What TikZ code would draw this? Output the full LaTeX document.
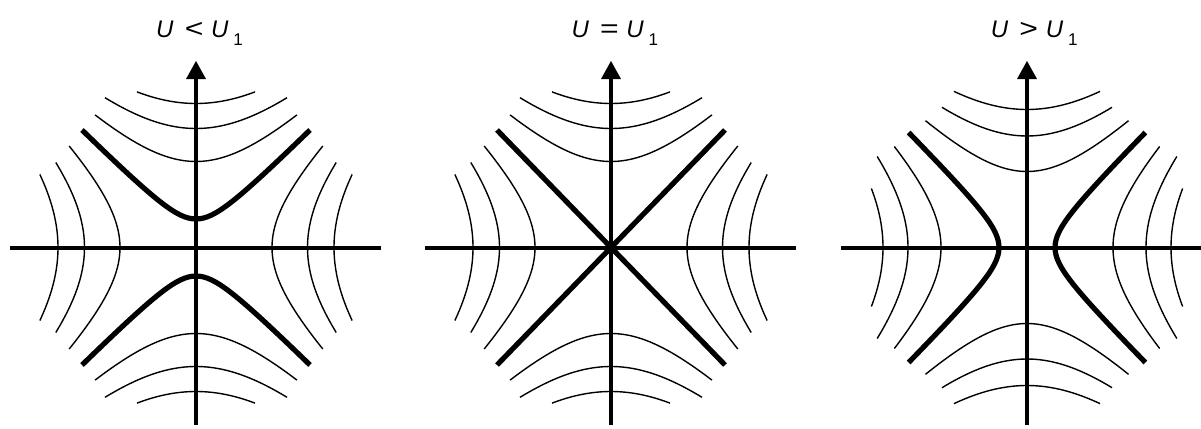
\documentclass[tikz,border=0pt]{standalone}
\usepackage{fontspec}
\setmainfont{Liberation Sans}
\begin{document}
\begin{tikzpicture}[x=1pt,y=-1pt,
  fam/.style={line width=1.4pt},
  sepx/.style={line width=5.2pt},
  ax/.style={line width=4pt},
  lbl/.style={anchor=base west,inner sep=0pt}]
\useasboundingbox (0,0) rectangle (1201,428);
\newcommand{\sub}[1]{\raisebox{-8.7pt}{\fontsize{17pt}{17pt}\selectfont #1}}
\newcommand{\lab}[1]{\fontsize{24pt}{28pt}\selectfont\textit{U}\hspace{11.1pt}\scalebox{1.33}[1.08]{#1}\hspace{7.7pt}\textit{U}\hspace{4.8pt}\sub{1}}
% ---------- panel 1 : U < U1 ----------
\begin{scope}[shift={(196,247.5)}]
  \foreach \a/\X in {14.4/5.9,11.9/9.1,8.6/10.1}{
    \draw[fam] plot[domain=-\X:\X,samples=41,smooth] ({10*\x},{10*sqrt(\a*\a+\x*\x)});
    \draw[fam] plot[domain=-\X:\X,samples=41,smooth] ({10*\x},{-10*sqrt(\a*\a+\x*\x)});
  }
  \foreach \a/\Y in {7.6/10.15,11.15/8.5,13.8/7.3}{
    \draw[fam] plot[domain=-\Y:\Y,samples=41,smooth] ({10*sqrt(\a*\a+\x*\x)},{10*\x});
    \draw[fam] plot[domain=-\Y:\Y,samples=41,smooth] ({-10*sqrt(\a*\a+\x*\x)},{10*\x});
  }
  \draw[sepx] plot[domain=-11.4:11.4,samples=61,smooth] ({10*\x},{10*sqrt(2.85*2.85+\x*\x)});
  \draw[sepx] plot[domain=-11.4:11.4,samples=61,smooth] ({10*\x},{-10*sqrt(2.85*2.85+\x*\x)});
  \draw[ax] (-186,0) -- (185,0);
  \draw[ax] (0,177.5) -- (0,-170);
  \fill (0,-186.5) -- (-10,-168.5) -- (10,-168.5) -- cycle;
\end{scope}
\node[lbl] (l1) at (156,37.3) {\lab{<}};
% ---------- panel 2 : U = U1 ----------
\begin{scope}[shift={(611,247.5)}]
  \foreach \a/\X in {14.4/5.9,11.9/9.1,8.6/10.1}{
    \draw[fam] plot[domain=-\X:\X,samples=41,smooth] ({10*\x},{10*sqrt(\a*\a+\x*\x)});
    \draw[fam] plot[domain=-\X:\X,samples=41,smooth] ({10*\x},{-10*sqrt(\a*\a+\x*\x)});
  }
  \foreach \a/\Y in {7.6/10.15,11.15/8.5,13.8/7.3}{
    \draw[fam] plot[domain=-\Y:\Y,samples=41,smooth] ({10*sqrt(\a*\a+\x*\x)},{10*\x});
    \draw[fam] plot[domain=-\Y:\Y,samples=41,smooth] ({-10*sqrt(\a*\a+\x*\x)},{10*\x});
  }
  \draw[sepx] (-114,-117.5) -- (114,117.5);
  \draw[sepx] (-114,117.5) -- (114,-117.5);
  \draw[ax] (-186,0) -- (185,0);
  \draw[ax] (0,177.5) -- (0,-170);
  \fill (0,-186.5) -- (-10,-168.5) -- (10,-168.5) -- cycle;
\end{scope}
\node[lbl] (l2) at (571.3,37.3) {\lab{=}};
% ---------- panel 3 : U > U1 ----------
\begin{scope}[shift={(1027,247.5)}]
  \foreach \a/\X in {7.6/10.15,11.15/8.5,13.8/7.3}{
    \draw[fam] plot[domain=-\X:\X,samples=41,smooth] ({10*\x},{10*sqrt(\a*\a+\x*\x)});
    \draw[fam] plot[domain=-\X:\X,samples=41,smooth] ({10*\x},{-10*sqrt(\a*\a+\x*\x)});
  }
  \foreach \a/\Y in {14.4/5.9,11.9/9.1,8.6/10.1}{
    \draw[fam] plot[domain=-\Y:\Y,samples=41,smooth] ({10*sqrt(\a*\a+\x*\x)},{10*\x});
    \draw[fam] plot[domain=-\Y:\Y,samples=41,smooth] ({-10*sqrt(\a*\a+\x*\x)},{10*\x});
  }
  \draw[sepx] plot[domain=-11.5:11.5,samples=61,smooth] ({10*sqrt(2.8*2.8+\x*\x)},{10*\x});
  \draw[sepx] plot[domain=-11.5:11.5,samples=61,smooth] ({-10*sqrt(2.8*2.8+\x*\x)},{10*\x});
  \draw[ax] (-186,0) -- (185,0);
  \draw[ax] (0,177.5) -- (0,-170);
  \fill (0,-186.5) -- (-10,-168.5) -- (10,-168.5) -- cycle;
\end{scope}
\node[lbl] (l3) at (990.7,37.3) {\lab{>}};
\end{tikzpicture}
\end{document}
